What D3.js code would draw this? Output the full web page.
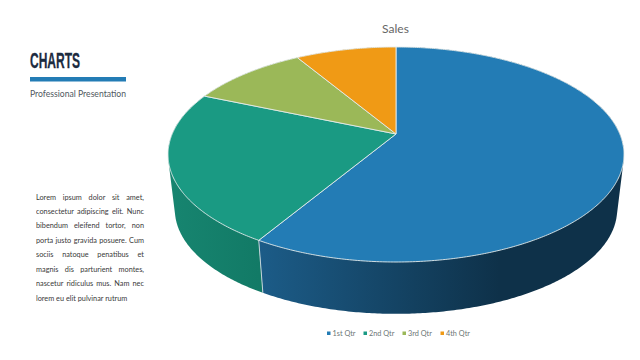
<!DOCTYPE html>
<html>
<head>
<meta charset="utf-8">
<script src="https://d3js.org/d3.v7.min.js"></script>
<style>
   html, body { margin: 0; padding: 0; background: #fff; }
   #slide { position: relative; width: 640px; height: 360px; overflow: hidden; }
   svg { position: absolute; left: 0; top: 0; }
   #lorem { position: absolute; left: 36px; top: 189.5px; width: 122.7px; font: 8.3px/14.45px Lato, sans-serif; color: #3a3a3a; transform: scaleX(0.88); transform-origin: 0 0; }
   #lorem div { text-align: justify; text-align-last: justify; white-space: nowrap; height: 14.45px; }
   #lorem div:last-child { text-align-last: left; }
</style>
</head>
<body>
<div id="slide"><div id="lorem"></div></div>
<script>
// CHART DATA
var categories = ['1st Qtr', '2nd Qtr', '3rd Qtr', '4th Qtr'];
var sales = [8.2, 3.2, 1.4, 1.2];
var topColors = ['#237cb5', '#1a9a83', '#9bb858', '#f09a15'];
var wallLeft = ['#1c5c88', '#178570', '#7c9346', '#c07b11'];
var wallRight = ['#0e3149', '#127a66', '#6d823d', '#a86c0f'];
var loremLines = [
   'Lorem ipsum dolor sit amet,',
   'consectetur adipiscing elit. Nunc',
   'bibendum eleifend tortor, non',
   'porta justo gravida posuere. Cum',
   'sociis natoque penatibus et',
   'magnis dis parturient montes,',
   'nascetur ridiculus mus. Nam nec',
   'lorem eu elit pulvinar rutrum'
];

// PIE GEOMETRY -- PERSPECTIVE DISC WITH A HOMOTHETIC LOWER RIM
var disc = { x: 396, y: 134, radius: 223.8, tilt: -0.1907, rise: 78.04 };
var rim = { scale: 0.97, vanishY: 1990 };

// LATO RUNS WIDER THAN THE ORIGINAL FONT
var narrow = 0.88;

// MAP AN ANGLE AND A RADIUS FRACTION TO THE TOP FACE
function project(angle, fraction) {
   var u = Math.sin(angle) * fraction;
   var v = -Math.cos(angle) * fraction;
   var depth = 1 + disc.tilt * v;
   return [disc.x + disc.radius * u / depth, (disc.y + disc.rise * v) / depth];
}

// SAME POINT, MOVED DOWN TO THE LOWER RIM
function lower(point) {
   return [
      disc.x + rim.scale * (point[0] - disc.x),
      rim.vanishY + rim.scale * (point[1] - rim.vanishY)
   ];
}

// SAMPLE AN ARC OF THE DISC
function arcPoints(start, end) {
   var steps = Math.ceil((end - start) / 0.01);
   return d3.range(steps + 1).map(i => project(start + (end - start) * i / steps, 1));
}

// SQUEEZE A TEXT ELEMENT TO THE NARROWER WIDTH
function squeeze(selection) {
   selection
      .attr('textLength', selection.node().getComputedTextLength() * narrow)
      .attr('lengthAdjust', 'spacingAndGlyphs');
}

var slide = d3.select('#slide');
var svg = slide.append('svg').attr('width', 640).attr('height', 360);
var defs = svg.append('defs');
var line = d3.line();
var slices = d3.pie().sort(null)(sales);

// WALLS FIRST, THE TOP FACE COVERS THE FAR SIDE
slices.forEach((slice, i) => {
   var top = arcPoints(slice.startAngle, slice.endAngle);
   var hull = d3.polygonHull(top.concat(top.map(lower)));
   var xs = top.map(p => p[0]);

   // DARK SHADING RUNS LEFT TO RIGHT, BLUE REACHES FULL DARK BEFORE THE CURVE ENDS
   var x1 = d3.min(xs);
   var x2 = i == 0 ? x1 + 0.66 * (d3.max(xs) - x1) : d3.max(xs);
   var gradient = defs.append('linearGradient')
      .attr('id', 'wall' + i)
      .attr('gradientUnits', 'userSpaceOnUse')
      .attr('x1', x1).attr('x2', x2).attr('y1', 0).attr('y2', 0);
   gradient.append('stop').attr('offset', 0).attr('stop-color', wallLeft[i]);
   gradient.append('stop').attr('offset', 1).attr('stop-color', wallRight[i]);

   svg.append('path')
      .attr('d', line(hull) + 'Z')
      .attr('fill', 'url(#wall' + i + ')');
});

// SEAM BETWEEN THE TWO VISIBLE WALLS
var seam = project(slices[0].endAngle, 1);
svg.append('path')
   .attr('d', line([seam, lower(seam)]))
   .attr('stroke', '#c4d3da')
   .attr('stroke-width', 1)
   .attr('fill', 'none');

// TOP FACE
slices.forEach((slice, i) => {
   var points = [project(0, 0)].concat(arcPoints(slice.startAngle, slice.endAngle));
   svg.append('path')
      .attr('d', line(points) + 'Z')
      .attr('fill', topColors[i])
      .attr('stroke', '#e4ecec')
      .attr('stroke-width', 0.9)
      .attr('stroke-linejoin', 'round');
});

// CHART TITLE
svg.append('text')
   .attr('x', 395.5)
   .attr('y', 33)
   .attr('text-anchor', 'middle')
   .attr('font-family', 'Lato, sans-serif')
   .attr('font-size', 12)
   .attr('fill', '#666')
   .text('Sales');

// LEGEND
var legendX = d3.scaleOrdinal().domain(categories).range([327, 363.5, 402.5, 440.5]);
categories.forEach((name, i) => {
   svg.append('rect')
      .attr('x', legendX(name))
      .attr('y', 331.5)
      .attr('width', 3.5)
      .attr('height', 3.5)
      .attr('fill', topColors[i]);
   svg.append('text')
      .attr('x', legendX(name) + 5.5)
      .attr('y', 336)
      .attr('font-family', 'Lato, sans-serif')
      .attr('font-size', 8.3)
      .attr('fill', '#6b7575')
      .text(name)
      .call(squeeze);
});

// HEADER BLOCK
svg.append('text')
   .attr('x', 30)
   .attr('y', 68)
   .attr('font-family', '"Liberation Sans Narrow", "Liberation Sans", sans-serif')
   .attr('font-weight', 'bold')
   .attr('font-size', 22)
   .attr('textLength', 50)
   .attr('lengthAdjust', 'spacingAndGlyphs')
   .attr('fill', '#1c2b3f')
   .attr('stroke', '#1c2b3f')
   .attr('stroke-width', 0.3)
   .text('CHARTS');
svg.append('rect')
   .attr('x', 30)
   .attr('y', 77)
   .attr('width', 96)
   .attr('height', 4.5)
   .attr('fill', '#237cb5');
svg.append('text')
   .attr('x', 30)
   .attr('y', 97)
   .attr('font-family', 'Lato, sans-serif')
   .attr('font-size', 9.6)
   .attr('fill', '#505860')
   .attr('textLength', 96)
   .attr('lengthAdjust', 'spacingAndGlyphs')
   .text('Professional Presentation');

// SIDE TEXT
d3.select('#lorem').selectAll('div')
   .data(loremLines)
   .enter().append('div')
   .text(d => d);
</script>
</body>
</html>
